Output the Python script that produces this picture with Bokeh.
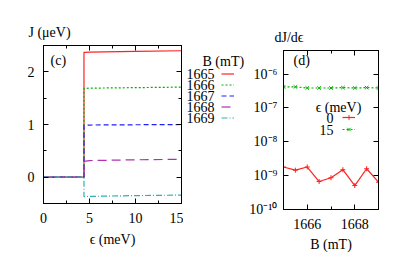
from bokeh.plotting import figure
from bokeh.models import (Range1d, LinearAxis, LogAxis, SingleIntervalTicker, LogTicker,
                          Legend, LegendItem, Label, Title, CustomJSTickFormatter, Spacer)
from bokeh.layouts import row, column
from bokeh.embed import file_html
from bokeh.resources import INLINE

FONT = "Liberation Serif"
FS = "14px"
NAN = float("nan")

# ---------------- data: panel (c) ----------------
eps = [0.0, 4.4, 4.4, 5.0, 10.0, 15.0]
B_fields = [1665, 1666, 1667, 1668, 1669]
J_1665 = [0.0, 0.0, 2.37, 2.375, 2.39, 2.40]
J_1666 = [0.0, 0.0, 1.685, 1.69, 1.70, 1.71]
J_1667 = [0.0, 0.0, 0.985, 0.99, 0.995, 1.00]
J_1668 = [0.0, 0.0, 0.30, 0.315, 0.33, 0.34]
J_1669 = [0.0, 0.0, -0.37, -0.365, -0.35, -0.34]
J_series = [J_1665, J_1666, J_1667, J_1668, J_1669]
colors_c = ["#ff2020", "#00b000", "#2020ff", "#b030b0", "#30b0b0"]
dashes_c = ["solid", "2 2", "5 3", "9 5", "6 2 1 2"]

# ---------------- data: panel (d) ----------------
B_axis = [1665.0, 1665.5, 1666.0, 1666.5, 1667.0, 1667.5, 1668.0, 1668.5, 1669.0]
dJ_eps0 = [1.8e-9, 1.45e-9, 1.8e-9, 6.7e-10, 8.7e-10, 1.5e-9, 5.1e-10, 1.6e-9, 6.4e-10]
dJ_eps15 = [4.2e-7, 4.2e-7, 3.9e-7, 3.9e-7, 3.9e-7, 4.0e-7, 3.9e-7, 4.0e-7, 3.9e-7]
eps_values = [0, 15]

blank = CustomJSTickFormatter(code="return ''")


def style_axis(ax, major_in=5, minor_in=3):
    ax.major_tick_in = major_in
    ax.major_tick_out = 0
    ax.minor_tick_in = minor_in
    ax.minor_tick_out = 0
    ax.axis_line_color = "black"
    ax.major_tick_line_color = "black"
    ax.minor_tick_line_color = "black"
    ax.major_label_text_font = FONT
    ax.major_label_text_font_size = FS
    ax.major_label_text_color = "black"
    ax.axis_label_text_font = FONT
    ax.axis_label_text_font_size = FS
    ax.axis_label_text_font_style = "normal"
    ax.axis_label_text_color = "black"


def mirror(ax):
    style_axis(ax)
    ax.major_label_standoff = 0
    ax.major_label_text_font_size = "0px"


def lab(p, x, y, text, align="left"):
    p.add_layout(Label(x=x, y=y, x_units="screen", y_units="screen", text=text,
                       text_font=FONT, text_font_size=FS, text_color="black",
                       text_baseline="middle", text_align=align))


def panel_title(text, offset, standoff):
    return Title(text=text, align="left", offset=offset, text_font=FONT, text_font_size=FS,
                 text_font_style="normal", text_color="black", standoff=standoff)


# ================= panel (c) =================
p1 = figure(frame_width=138, frame_height=158, x_range=Range1d(0, 15), y_range=Range1d(-0.5, 2.5),
            output_backend="svg", toolbar_location=None,
            min_border_left=43, min_border_right=2, min_border_top=45, min_border_bottom=60)
p1.title = panel_title("J (μeV)", -15, 12)
p1.grid.visible = False
p1.outline_line_color = "black"
p1.background_fill_color = "white"
p1.border_fill_color = "white"

xt1 = SingleIntervalTicker(interval=5, num_minor_ticks=2)
yt1 = SingleIntervalTicker(interval=1, num_minor_ticks=2)
p1.xaxis.ticker = xt1
p1.yaxis.ticker = yt1
p1.xaxis.axis_label = "ϵ (meV)"
for ax in p1.xaxis + p1.yaxis:
    style_axis(ax)
p1.xaxis.major_label_standoff = 9
p1.xaxis.axis_label_standoff = 6
p1.yaxis.major_label_standoff = 9

top1 = LinearAxis(ticker=xt1, formatter=blank)
right1 = LinearAxis(ticker=yt1, formatter=blank)
mirror(top1)
mirror(right1)
p1.add_layout(top1, "above")
p1.add_layout(right1, "right")

for js, c, d in zip(J_series, colors_c, dashes_c):
    p1.line(eps, js, line_color=c, line_dash=d, line_width=1.2)
lab(p1, 7, 143, "(c)")

# ================= legend panel for (c) =================
pL = figure(frame_width=63, frame_height=158, x_range=Range1d(0, 1), y_range=Range1d(0, 1),
            output_backend="svg", toolbar_location=None,
            x_axis_location=None, y_axis_location=None,
            min_border_left=0, min_border_right=0, min_border_top=45, min_border_bottom=60)
pL.grid.visible = False
pL.outline_line_color = None
pL.background_fill_color = "white"
pL.border_fill_color = "white"

itemsL = []
for b, c, d in zip(B_fields, colors_c, dashes_c):
    proxy = pL.line(x=[NAN], y=[NAN], line_color=c, line_dash=d, line_width=1.2)
    itemsL.append(LegendItem(label=" ", renderers=[proxy]))
legL = Legend(items=itemsL, location=(38, 80), glyph_width=13, glyph_height=11,
              label_height=11, label_width=0, label_standoff=0, spacing=0, padding=0,
              margin=0, label_text_font_size="6px", border_line_color=None,
              background_fill_alpha=0)
pL.add_layout(legL, "center")
lab(pL, 19, 142, "B (mT)")
for i, b in enumerate(B_fields):
    lab(pL, 31, 129.5 - 11 * i, str(b), "right")

# ================= panel (d) =================
p2 = figure(frame_width=95, frame_height=159, x_range=Range1d(1665, 1669),
            y_range=Range1d(1e-10, 5e-6),
            y_axis_type="log", output_backend="svg", toolbar_location=None,
            min_border_left=34, min_border_right=21, min_border_top=45, min_border_bottom=60)
p2.title = panel_title("dJ/dϵ", -9, 12)
p2.grid.visible = False
p2.outline_line_color = "black"
p2.background_fill_color = "white"
p2.border_fill_color = "white"

xt2 = SingleIntervalTicker(interval=2, num_minor_ticks=2)
yt2 = LogTicker(mantissas=[1], num_minor_ticks=0)
sup = CustomJSTickFormatter(code="""
const m = {'-':'\u207b','0':'\u2070','1':'\u00b9','2':'\u00b2','3':'\u00b3','4':'\u2074',
           '5':'\u2075','6':'\u2076','7':'\u2077','8':'\u2078','9':'\u2079'};
const e = Math.round(Math.log10(tick));
return '10' + String(e).split('').map(c => m[c]).join('');
""")
p2.xaxis.ticker = xt2
p2.yaxis.ticker = yt2
p2.yaxis.formatter = sup
p2.xaxis.axis_label = "B (mT)"
for ax in p2.xaxis + p2.yaxis:
    style_axis(ax)
p2.yaxis.minor_tick_line_color = None
p2.xaxis.major_label_standoff = 9
p2.xaxis.axis_label_standoff = 5
p2.yaxis.major_label_standoff = 6

top2 = LinearAxis(ticker=xt2, formatter=blank)
right2 = LogAxis(ticker=yt2, formatter=blank)
mirror(top2)
mirror(right2)
right2.minor_tick_line_color = None
p2.add_layout(top2, "above")
p2.add_layout(right2, "right")

r0l = p2.line(B_axis, dJ_eps0, line_color="#ff2020", line_width=1.2)
r0m = p2.scatter(B_axis, dJ_eps0, marker="cross", size=5, line_color="#ff2020", line_width=1)
r15l = p2.line(B_axis, dJ_eps15, line_color="#00b000", line_dash="2 2", line_width=1.2)
r15m = p2.scatter(B_axis, dJ_eps15, marker="x", size=5, line_color="#00b000", line_width=1)

leg2 = Legend(items=[LegendItem(label=" ", renderers=[r0l, r0m]),
                     LegendItem(label=" ", renderers=[r15l, r15m])],
              location=(59, 74), glyph_width=13, glyph_height=12, label_height=12,
              label_width=0, label_standoff=0, spacing=0, padding=0, margin=0,
              label_text_font_size="6px", border_line_color=None, background_fill_alpha=0)
p2.add_layout(leg2, "center")

lab(p2, 55, 102, "ϵ (meV)", "center")
for i, e in enumerate(eps_values):
    lab(p2, 50, 92 - 12 * i, str(e), "right")
lab(p2, 10, 149, "(d)")

layout = row(p1, pL, column(Spacer(width=150, height=5), p2))
open("out.html", "w").write(file_html(layout, INLINE))
